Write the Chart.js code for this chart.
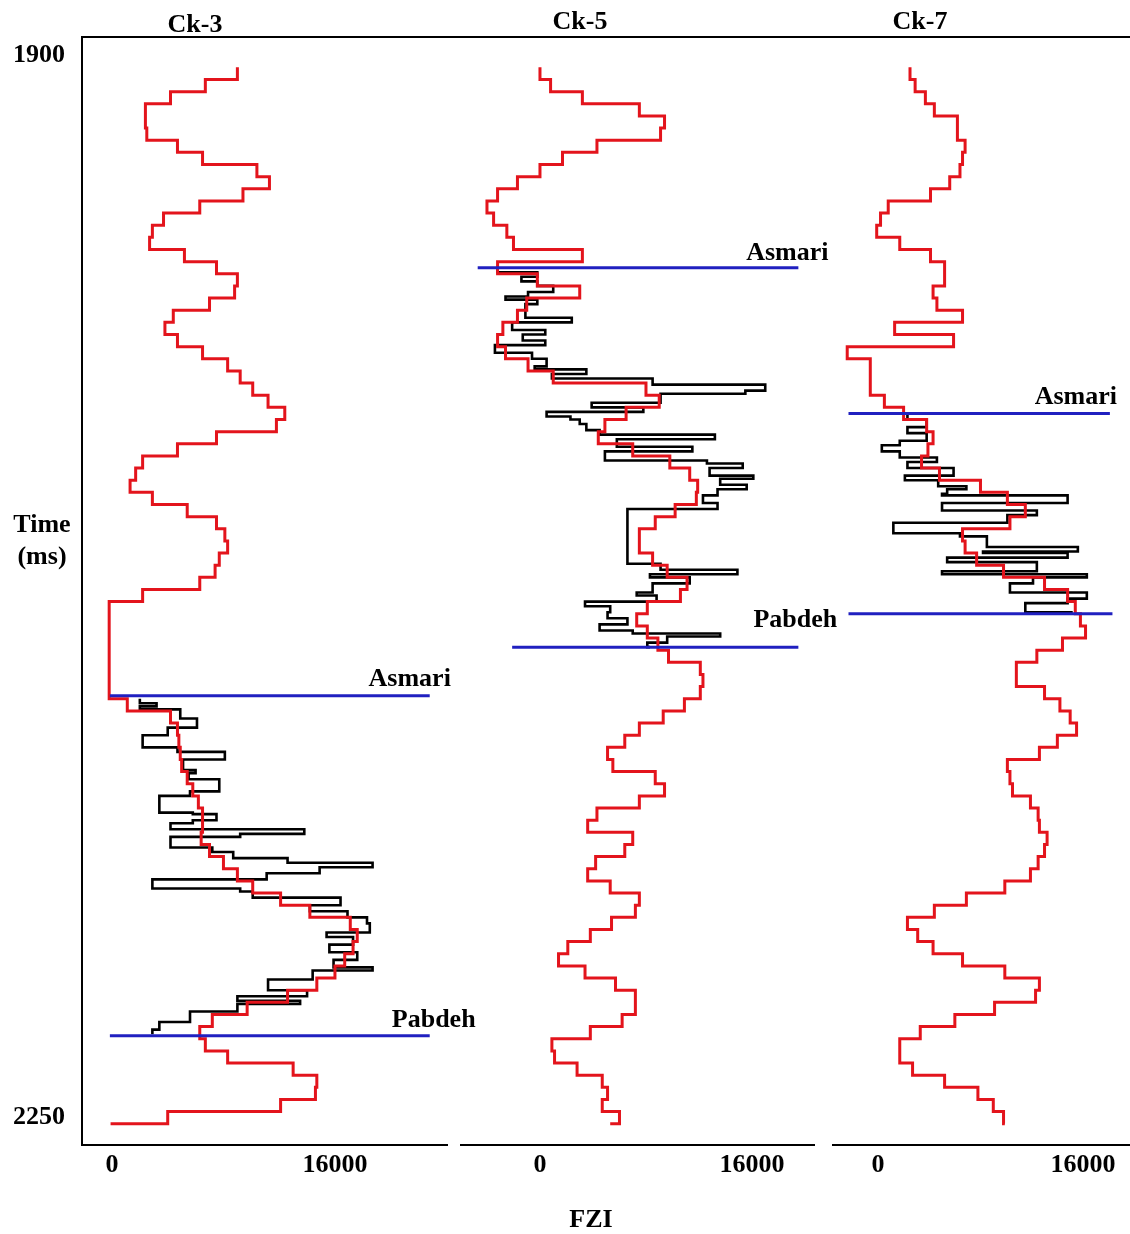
<!DOCTYPE html>
<html>
<head>
<meta charset="utf-8">
<title>FZI – Ck-3, Ck-5, Ck-7</title>
<script src="https://cdn.jsdelivr.net/npm/chart.js@4.4.1/dist/chart.umd.min.js"></script>
<style>
  html, body { margin: 0; padding: 0; background: #fff; overflow: hidden; }
  #wrap { width: 1130px; height: 1234px; }
  canvas { display: block; }
</style>
</head>
<body>
<div id="wrap"><canvas id="chart" width="1130" height="1234"></canvas></div>
<script>
// two-way time (ms) of the FZI trace samples, shared by the three wells
const traceTime = [
  1904, 1908, 1912, 1916, 1920, 1924, 1928, 1932, 1936, 1940,
  1944, 1948, 1952, 1956, 1960, 1964, 1968, 1972, 1976, 1980,
  1984, 1988, 1992, 1996, 2000, 2004, 2008, 2012, 2016, 2020,
  2024, 2028, 2032, 2036, 2040, 2044, 2048, 2052, 2056, 2060,
  2064, 2068, 2072, 2076, 2080, 2084, 2088, 2092, 2096, 2100,
  2104, 2108, 2112, 2116, 2120, 2124, 2128, 2132, 2136, 2140,
  2144, 2148, 2152, 2156, 2160, 2164, 2168, 2172, 2176, 2180,
  2184, 2188, 2192, 2196, 2200, 2204, 2208, 2212, 2216, 2220,
  2224, 2228, 2232, 2236, 2240, 2244, 2248, 2252
];

// FZI trace (red)
const ck3Trace = [
  9000, 6700, 4200, 2400, 2400, 2500, 4700, 6500, 10400, 11300,
  9400, 6300, 3700, 2900, 2700, 5200, 7500, 9000, 8800, 7000,
  4400, 3800, 4700, 6500, 8300, 9200, 10100, 11200, 12400, 11800,
  7500, 4700, 2200, 1700, 1300, 2900, 5400, 7500, 8100, 8300,
  7700, 7400, 6300, 2200, -200, -200, -200, -200, -200, -200,
  -200, -200, 1100, 4200, 4700, 4800, 4900, 5000, 5400, 5800,
  6200, 6500, 6500, 6400, 7000, 8000, 9000, 10100, 12100, 14200,
  17100, 17600, 17300, 16700, 16000, 14700, 12600, 9700, 7200, 6300,
  6700, 8300, 13000, 14700, 14600, 12100, 4000, -100
];
const ck5Trace = [
  0, 800, 3200, 7500, 9400, 9100, 4300, 1700, 0, -1700,
  -3200, -4000, -3500, -2500, -2000, 3200, -3200, -200, 3000, -1000,
  -1700, -2800, -3200, -2600, -900, 1000, 8000, 9000, 6500, 4900,
  4400, 7000, 9800, 11300, 11900, 11800, 10200, 8700, 7500, 7500,
  8500, 9600, 11100, 10600, 8100, 7300, 8100, 8900, 9700, 12100,
  12300, 12100, 10900, 9300, 7500, 6400, 5100, 5500, 8700, 9400,
  7500, 4300, 3600, 7000, 6400, 4200, 3600, 5300, 7500, 7200,
  5400, 3800, 2100, 1400, 3400, 5700, 7200, 7200, 6200, 3800,
  900, 1100, 2800, 4700, 5100, 4700, 6000, 5300
];
const ck7Trace = [
  2500, 2900, 3700, 4400, 6200, 6200, 6800, 6600, 6400, 5600,
  4100, 800, 200, -100, 1700, 4100, 5200, 5200, 4300, 4600,
  6600, 1300, 5900, -2400, -600, -600, -600, 500, 2000, 3800,
  4300, 3900, 3400, 4800, 8000, 10100, 11500, 10300, 6600, 6800,
  7700, 9800, 13000, 14800, 15400, 15800, 16200, 14400, 12400, 10800,
  10800, 13000, 14200, 15000, 15500, 14000, 12600, 10100, 10300, 10500,
  11900, 12500, 12600, 13200, 13000, 12500, 11900, 9900, 6900, 4400,
  2300, 3100, 4300, 6600, 9900, 12600, 12300, 9100, 6000, 3300,
  1700, 1700, 2700, 5200, 7800, 9000, 9800, 9900
];

// blocky well-log FZI (black), Asmari interval only
const ck3LogTime = [
  2112, 2113.5, 2114.5, 2115.5, 2118.5, 2121.5, 2124, 2128, 2129.5, 2132,
  2135.5, 2136.5, 2138.5, 2142.5, 2144, 2149.5, 2150, 2152, 2153, 2155,
  2156.5, 2157.5, 2161, 2162.5, 2164.5, 2166, 2167.5, 2169.5, 2171.5, 2174.5,
  2175.5, 2177.5, 2180, 2182, 2184, 2186, 2189, 2190.5, 2193, 2195.5,
  2198, 2200.5, 2201.5, 2204.5, 2208, 2210, 2211.5, 2212.5, 2215, 2218.5,
  2221, 2222.5
];
const ck3Log = [
  2000, 3200, 2000, 4900, 6100, 4000, 2200, 4700, 8100, 5100,
  6000, 5500, 7700, 5600, 3400, 5800, 7500, 5800, 4200, 13800,
  9200, 4200, 7200, 8700, 12600, 18700, 14900, 11100, 2900, 9200,
  10100, 16400, 14200, 16900, 18300, 18500, 15400, 17300, 15600, 17600,
  15900, 18700, 14400, 11200, 14000, 9000, 13500, 9000, 5600, 3400,
  2900, 2900
];
const ck5LogTime = [
  1970, 1971.5, 1973, 1974.5, 1976, 1978, 1979.5, 1980.5, 1982, 1986.5,
  1988, 1990.5, 1992, 1994, 1995.5, 1998, 2000, 2002.5, 2003.5, 2005,
  2006.5, 2008.5, 2010.5, 2011.5, 2014.5, 2016, 2017.5, 2019, 2020, 2021.5,
  2023.5, 2025, 2026.5, 2029, 2030.5, 2033.5, 2034.5, 2036, 2038.5, 2039.5,
  2041.5, 2043, 2045, 2047.5, 2049.5, 2067.5, 2069.5, 2071, 2072, 2074,
  2077, 2078, 2080, 2081.5, 2083.5, 2085.5, 2087.5, 2089.5, 2090.5, 2091.5,
  2093.5, 2095
];
const ck5Log = [
  -3200, -200, -1400, -200, 1000, -900, -2600, -200, -1100, 2400,
  -2100, 400, -1300, 400, -3400, -600, 500, -400, 3500, 900,
  8500, 17000, 15500, 9100, 3900, 7800, 500, 2300, 3000, 3500,
  4500, 13200, 5800, 11500, 4900, 12600, 15300, 12800, 16100, 13600,
  15600, 13400, 12300, 13400, 6600, 9100, 14900, 8300, 11300, 8500,
  7300, 8800, 3400, 5300, 5100, 6600, 4500, 7000, 13600, 9600,
  8100, 8300
];
const ck7LogTime = [
  2018, 2020, 2022.5, 2024.5, 2027, 2028.5, 2030.5, 2032.5, 2034, 2036,
  2038.5, 2040, 2042, 2043, 2044.5, 2045, 2047.5, 2050, 2051.5, 2054,
  2057.5, 2058.5, 2062, 2063.5, 2064, 2065.5, 2067, 2070, 2071, 2072,
  2074, 2077, 2079, 2080.5, 2083.5
];
const ck7Log = [
  2300, 3800, 2300, 3800, 1700, 300, 1700, 4600, 2300, 5900,
  2100, 4700, 6900, 5400, 5000, 14800, 5000, 12400, 10100, 1200,
  6400, 8500, 15600, 8200, 14800, 5400, 12400, 5000, 16300, 12100,
  10300, 16300, 14800, 11500, 15200
];

// formation tops (ms) and the FZI extent of each marker line
const topNames = ['Asmari', 'Pabdeh'];
const ck3Tops = [2111, 2223];
const ck5Tops = [1970, 2095];
const ck7Tops = [2018, 2084];
const ck3TopSpan = [[-150, 22800], [-150, 22800]];
const ck5TopSpan = [[-4700, 19500], [-2100, 19500]];
const ck7TopSpan = [[-2300, 18100], [-2300, 18300]];

const timeTicks = [1900, 2250];
const fziTicks = [0, 16000];

const wells = [
  { name: 'Ck-3', axis: 'x3k', trace: ck3Trace, logTime: ck3LogTime, log: ck3Log, tops: ck3Tops, span: ck3TopSpan },
  { name: 'Ck-5', axis: 'x5k', trace: ck5Trace, logTime: ck5LogTime, log: ck5Log, tops: ck5Tops, span: ck5TopSpan },
  { name: 'Ck-7', axis: 'x7k', trace: ck7Trace, logTime: ck7LogTime, log: ck7Log, tops: ck7Tops, span: ck7TopSpan }
];

// ---- styling / layout ----
const RED = '#e3141c';
const BLUE = '#2020c0';
const serif = { family: '"Liberation Serif", "Times New Roman", serif', size: 26, weight: 'bold' };
const FONT = 'bold 26px "Liberation Serif", "Times New Roman", serif';

const captions = [
  { text: 'Ck-3', x: 195, y: 25 },
  { text: 'Ck-5', x: 580, y: 22 },
  { text: 'Ck-7', x: 920, y: 22 },
  { text: 'Time', x: 42, y: 525 },
  { text: '(ms)', x: 42, y: 557 },
  { text: 'FZI', x: 591, y: 1220 }
];
// label offsets from the right end of each marker line (null = no label)
const topLabelOffsets = {
  'Ck-3': [{ dx: -20, dy: -16 }, { dx: 4, dy: -15 }],
  'Ck-5': [{ dx: -11, dy: -14 }, { dx: -3, dy: -27 }],
  'Ck-7': [{ dx: -34, dy: -16 }, null]
};

function points(times, values) {
  return times.map((t, i) => ({ x: values[i], y: t }));
}

const datasets = [];
wells.forEach(w => {
  w.tops.forEach((t, i) => {
    datasets.push({
      label: w.name + ' ' + topNames[i],
      xAxisID: w.axis, yAxisID: 'y',
      data: [{ x: w.span[i][0], y: t }, { x: w.span[i][1], y: t }],
      borderColor: BLUE, borderWidth: 3, pointRadius: 0, order: 0
    });
  });
  datasets.push({
    label: w.name + ' FZI trace',
    xAxisID: w.axis, yAxisID: 'y',
    data: points(traceTime, w.trace),
    stepped: 'after',
    borderColor: RED, borderWidth: 3, pointRadius: 0, order: 1
  });
  datasets.push({
    label: w.name + ' FZI log',
    xAxisID: w.axis, yAxisID: 'y',
    data: points(w.logTime, w.log),
    stepped: 'after',
    borderColor: '#000', borderWidth: 2.6, pointRadius: 0, order: 2
  });
});

// keep the frame fixed: no extra room for tick labels at the ends
function fixSize(prop, size) {
  return s => {
    s[prop] = size;
    s.paddingLeft = s.paddingRight = s.paddingTop = s.paddingBottom = 0;
  };
}

function fziAxis(min, max, weight) {
  return {
    type: 'linear', axis: 'x', position: 'bottom', stack: 'fzi', stackWeight: weight,
    min: min, max: max,
    afterBuildTicks: s => { s.ticks = fziTicks.map(v => ({ value: v })); },
    afterFit: fixSize('height', 89),
    ticks: { font: serif, color: '#000', padding: 5, autoSkip: false, maxRotation: 0, callback: v => String(v) },
    grid: { display: false, drawTicks: false },
    border: { display: true, color: '#000', width: 2 }
  };
}
function spacer(weight) {
  return {
    type: 'linear', axis: 'x', position: 'bottom', stack: 'fzi', stackWeight: weight,
    min: 0, max: 1,
    afterFit: fixSize('height', 89),
    ticks: { display: false },
    grid: { display: false, drawTicks: false },
    border: { display: false }
  };
}

const textPlugin = {
  id: 'logText',
  afterDraw(chart) {
    const ctx = chart.ctx;
    const y = chart.scales.y;
    ctx.save();
    ctx.font = FONT;
    ctx.fillStyle = '#000';
    ctx.textAlign = 'center';
    ctx.textBaseline = 'middle';
    captions.forEach(c => ctx.fillText(c.text, c.x, c.y));
    wells.forEach(w => {
      const xs = chart.scales[w.axis];
      w.tops.forEach((t, i) => {
        const off = topLabelOffsets[w.name][i];
        if (!off) return;
        ctx.fillText(topNames[i], xs.getPixelForValue(w.span[i][1]) + off.dx, y.getPixelForValue(t) + off.dy);
      });
    });
    ctx.restore();
  }
};

new Chart(document.getElementById('chart'), {
  type: 'line',
  data: { datasets: datasets },
  options: {
    responsive: false,
    animation: false,
    layout: { padding: 0 },
    plugins: { legend: { display: false }, tooltip: { enabled: false } },
    scales: {
      y: {
        type: 'linear', position: 'left', reverse: true,
        min: 1894, max: 2259,
        afterBuildTicks: s => { s.ticks = timeTicks.map(v => ({ value: v })); },
        afterFit: fixSize('width', 82),
        ticks: { font: serif, color: '#000', padding: 17, callback: v => String(v) },
        grid: { display: false, drawTicks: false },
        border: { display: true, color: '#000', width: 2 }
      },
      xTop: {
        type: 'linear', axis: 'x', position: 'top', min: 0, max: 1,
        afterFit: fixSize('height', 37),
        ticks: { display: false },
        grid: { display: false, drawTicks: false },
        border: { display: true, color: '#000', width: 2 }
      },
      x3k: fziAxis(-2150, 24040, 365),
      gapA: spacer(14),
      x5k: fziAxis(-5960, 20680, 353),
      gapB: spacer(19),
      x7k: fziAxis(-3510, 19670, 297)
    }
  },
  plugins: [textPlugin]
});
</script>
</body>
</html>
